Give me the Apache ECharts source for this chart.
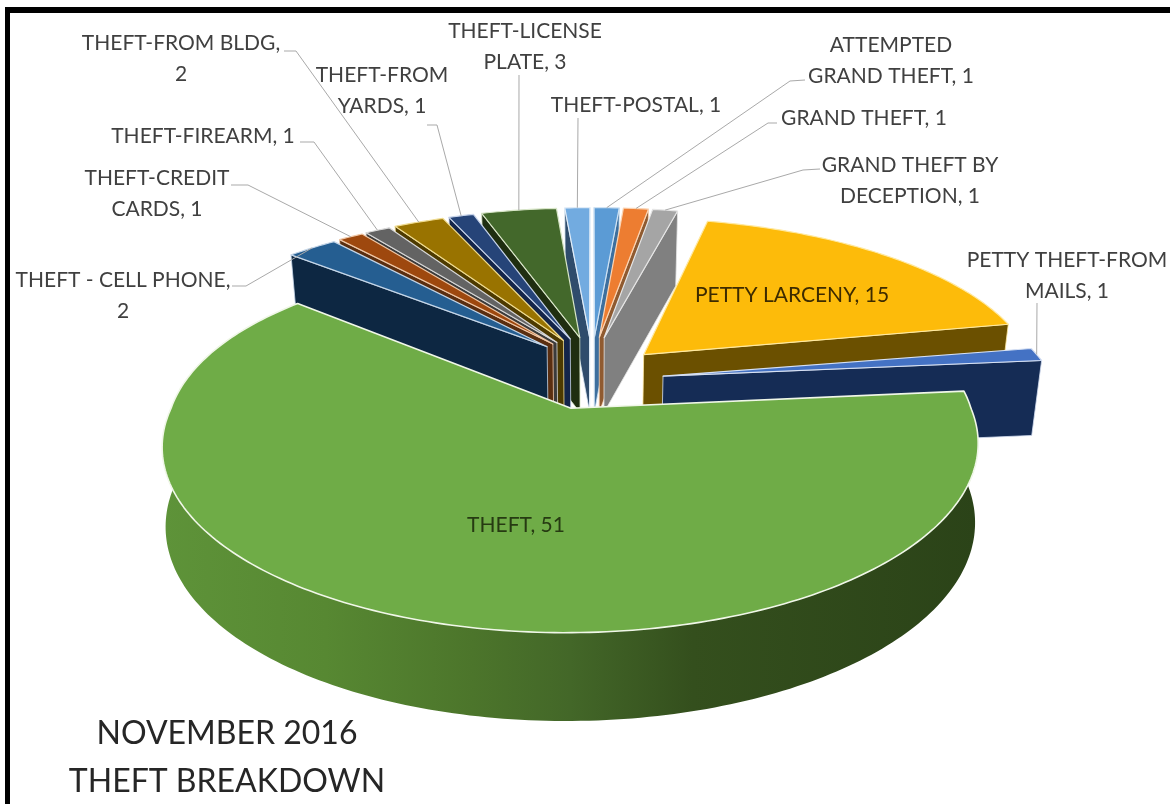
<!DOCTYPE html>
<html><head><meta charset="utf-8">
<style>html,body{margin:0;padding:0;background:#fff}#c{width:1170px;height:804px}</style>
<script src="https://cdn.jsdelivr.net/npm/echarts@6/dist/echarts.min.js"></script>
</head><body><div id="c"></div>
<script>
const categories = ["ATTEMPTED GRAND THEFT","GRAND THEFT","GRAND THEFT BY DECEPTION","PETTY LARCENY","PETTY THEFT-FROM MAILS","THEFT","THEFT - CELL PHONE","THEFT-CREDIT CARDS","THEFT-FIREARM","THEFT-FROM BLDG","THEFT-FROM YARDS","THEFT-LICENSE PLATE","THEFT-POSTAL"];
const values = [1,1,1,15,1,51,2,1,1,2,1,3,1];
const topColors = ["#5b9bd5","#ed7d31","#a5a5a5","#fdbb0a","#4472c4","#6fac47","#255e91","#9e480e","#636363","#997300","#264478","#43682b","#72abe0"];
const wallColors = ["#3d6f9e","#8f5a30","#808080","#6b5000","#152c55","#3f6324","#0d2742","#5a2e10","#3b3b3b","#4d3a00","#14254a","#1f2e10","#2f4c6c"];
const edgeColors = ["#cfe2f3","#fbd5b5","#e6e6e6","#ffe9a0","#d6e0f3","#f0f7e8","#c5d6e8","#f0c8a8","#d8d8d8","#f0dc90","#c8d4ea","#d8e6c8","#e0ecf8"];
const drawOrder = [12,0,1,11,2,10,9,8,7,6,3,4,5];
// label lines, label anchors (layout only)
const labelLines = [["ATTEMPTED","GRAND THEFT, 1"],["GRAND THEFT, 1"],["GRAND THEFT BY","DECEPTION, 1"],["PETTY LARCENY, 15"],["PETTY THEFT-FROM","MAILS, 1"],["THEFT, 51"],["THEFT - CELL PHONE,","2"],["THEFT-CREDIT","CARDS, 1"],["THEFT-FIREARM, 1"],["THEFT-FROM BLDG,","2"],["THEFT-FROM","YARDS, 1"],["THEFT-LICENSE","PLATE, 3"],["THEFT-POSTAL, 1"]];
const labelPos = [[891,45],[864,118],[910,165],[792,295],[1067,260],[516,525],[123,280],[157,178],[203,136],[181,43],[382,75],[525,31],[636,105]];
const leaders = [[[805,80],[790,81]],[[777,123],[768,123]],[[820,169],[803,170]],null,[[1037,303]],null,[[232,286],[246,286]],[[231,185],[248,185]],[[300,142],[314,142]],[[284,51],[296,51]],[[427,125],[437,125]],[[519,75]],[[578,118]]];

const CX=592, CY=372, A=400, B=166, K=0.19, EX=0.165, EY=0.22, XS=0.978, XS_RIM=0.992;
const total = values.reduce((a,b)=>a+b,0);
const rad = d=>d*Math.PI/180;
const starts=[]; { let s=0; values.forEach(v=>{starts.push(s); s+=v/total*360;}); }
const nudges = {3:[0,3],4:[-3,9]};
const tipNudges = {3:[5,7],4:[6,9]};
const THEFT = 5;

function proj(U,V,n){ const d=1+K*V; return [CX+A*U/d+(n?n[0]:0), CY-B*V/d+(n?n[1]:0), V]; }
function low(p,xs){ const V=p[2]; const dd = V>=0?75:75-11*V; return [CX+(p[0]-CX)*(xs||XS), p[1]+dd]; }
function pt(i,deg,r){
  const mid=starts[i]+values[i]/total*180;
  const U0=EX*Math.sin(rad(mid)), V0=EY*Math.cos(rad(mid));
  const c=Math.cos(rad(deg));
  const sx = i===THEFT ? 1-0.04*Math.min(1,Math.max(0,(0.8-c)/0.8)) : 1;
  return proj(U0+r*sx*Math.sin(rad(deg)),V0+r*c,r===0&&tipNudges[i]?tipNudges[i]:nudges[i]);
}
function arc(i,a0,a1){ const out=[]; const n=Math.max(2,Math.ceil(Math.abs(a1-a0))); for(let k=0;k<=n;k++){ out.push(pt(i,a0+(a1-a0)*k/n,1)); } return out; }

function renderItem(params, api){
  const i = api.value(0), v = api.value(1);
  const order = drawOrder.indexOf(i);
  const a0 = starts[i], a1 = a0 + v/total*360;
  const tip = pt(i,a0,0);
  const kids = [];
  const base = (order+1)*10;
  const poly=(pts,fill,stroke,w,z)=>kids.push({type:'polygon',z2:base+z,shape:{points:pts.map(p=>[p[0],p[1]])},style:{fill,stroke:stroke||null,lineWidth:w||0,lineJoin:'round'}});
  // radial walls that face the viewer
  if(Math.cos(rad(a0-90))<0.02 ){ const o=pt(i,a0,1); poly([tip,o,low(o),low(tip)],wallColors[i],edgeColors[i],0.8,1); }
  if(Math.cos(rad(a1+90))<0.02 ){ const o=pt(i,a1,1); poly([tip,o,low(o),low(tip)],wallColors[i],edgeColors[i],0.8,1); }
  // outer rim wall, only the front part
  const f0=Math.max(a0,90-6), f1=Math.min(a1,315);
  if(f1>f0 && v>10 && a0>80){
    const top=arc(i,f0,f1), bot=top.map(p=>low(p,XS_RIM)).reverse();
    poly(top.concat(bot),{type:'linear',x:0,y:0,x2:1,y2:0,colorStops:[{offset:0,color:'#5e9339'},{offset:0.2,color:'#578832'},{offset:0.38,color:'#4c752b'},{offset:0.5,color:'#436728'},{offset:0.65,color:'#344f1d'},{offset:1,color:'#2b4318'}]},null,0,2);
  }
  poly([tip].concat(arc(i,a0,a1)),topColors[i],edgeColors[i],i===THEFT?1.6:1.2,3);
  // leader
  if(leaders[i]){
    const end=pt(i,(a0+a1)/2,1);
    kids.push({type:'polyline',z2:900,shape:{points:leaders[i].concat([[end[0],end[1]]])},style:{fill:null,stroke:'#a9a9a9',lineWidth:1}});
  }
  labelLines[i].forEach((t,j)=>{
    kids.push({type:'text',z2:1000,x:labelPos[i][0],y:labelPos[i][1]+j*31,style:{text:t,fill:(i===3?'#3d2b00':(i===5?'#263a12':'#404040')),font:'21px Lato',textAlign:'center',textVerticalAlign:'middle'}});
  });
  return {type:'group',children:kids};
}

const chart = echarts.init(document.getElementById('c'),null,{renderer:'canvas'});
chart.setOption({
  animation:false,
  backgroundColor:'#ffffff',
  title:{text:'NOVEMBER 2016\nTHEFT BREAKDOWN',left:222,top:705,textAlign:'center',textStyle:{fontFamily:'Lato',fontWeight:'normal',fontSize:32,lineHeight:48,color:'#262626',align:'center'}},
  graphic:[
    {type:'rect',z:100,shape:{x:5,y:7,width:1165,height:6},style:{fill:'#000'}},
    {type:'rect',z:100,shape:{x:5,y:7,width:5,height:797},style:{fill:'#000'}}
  ],
  series:[{type:'custom',coordinateSystem:'none',renderItem,silent:true,data:drawOrder.map(i=>[i,values[i],categories[i]])}]
});
</script></body></html>
